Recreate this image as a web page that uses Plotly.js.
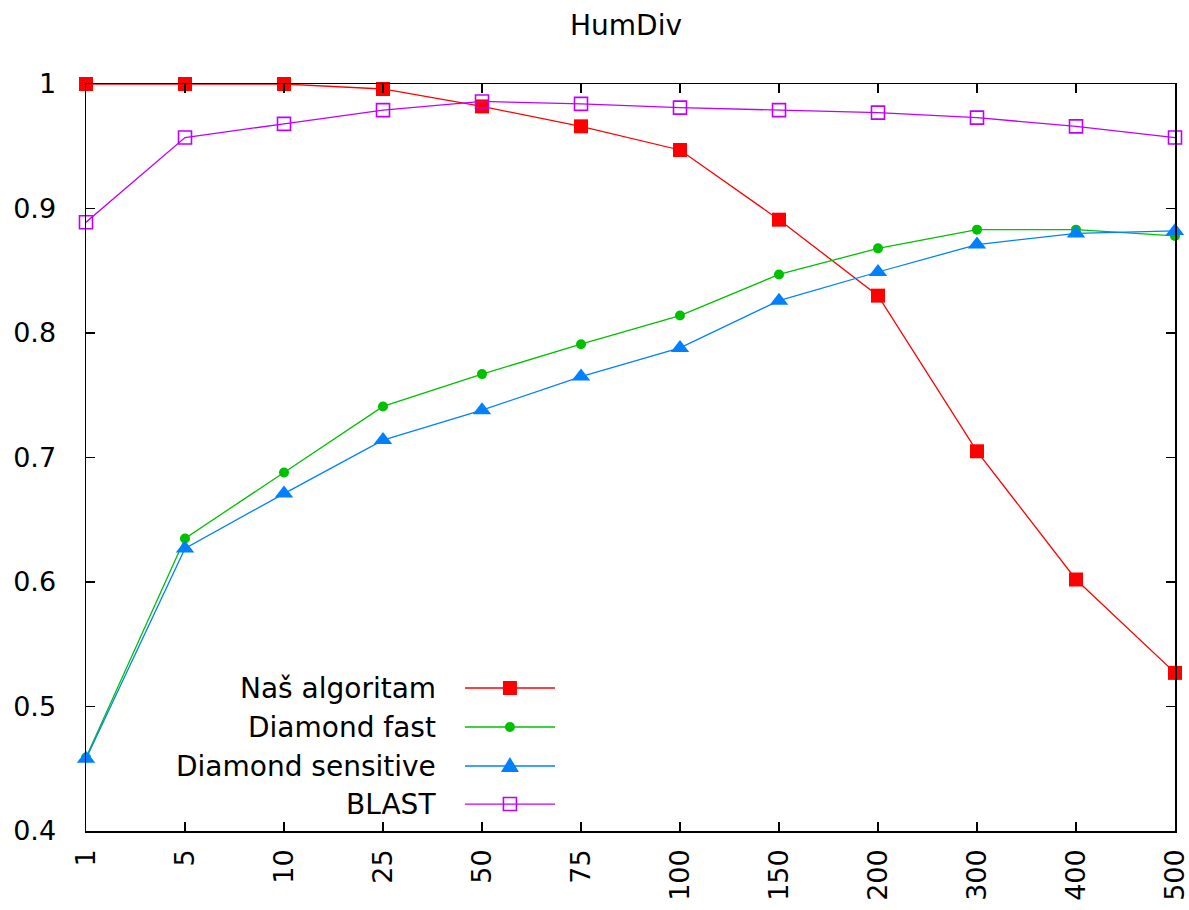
<!DOCTYPE html>
<html><head><meta charset="utf-8">
<script src="https://cdn.plot.ly/plotly-3.0.1.min.js"></script>
<style>body{margin:0;background:#fff}#chart{width:1189px;height:910px}</style>
</head><body><div id="chart"></div>
<script>
const categories = ["1","5","10","25","50","75","100","150","200","300","400","500"];
const nasAlgoritam = [1.0, 1.0, 1.0, 0.996, 0.982, 0.966, 0.947, 0.891, 0.830, 0.705, 0.602, 0.527];
const diamondFast = [0.459, 0.635, 0.688, 0.741, 0.767, 0.791, 0.814, 0.847, 0.868, 0.883, 0.883, 0.878];
const diamondSensitive = [0.458, 0.627, 0.671, 0.714, 0.738, 0.765, 0.788, 0.826, 0.849, 0.871, 0.880, 0.882];
const blast = [0.889, 0.957, 0.968, 0.979, 0.986, 0.984, 0.981, 0.979, 0.977, 0.973, 0.966, 0.957];
const seriesNames = ["Naš algoritam", "Diamond fast", "Diamond sensitive", "BLAST"];
const seriesColors = ["#ff0000", "#00c000", "#0080ff", "#c000ff"];
const yTicks = [0.4, 0.5, 0.6, 0.7, 0.8, 0.9, 1];
const yTickText = ["0.4", "0.5", "0.6", "0.7", "0.8", "0.9", "1"];

const FONT = "DejaVu Sans";
const seriesData = [nasAlgoritam, diamondFast, diamondSensitive, blast];
const markerDefs = [
  {symbol: "square", size: 14},
  {symbol: "circle", size: 10},
  {symbol: "triangle-up", size: 16},
  {symbol: "square-open", size: 13}
];
const traces = seriesData.map((ys, i) => ({
  x: categories, y: ys, type: "scatter", mode: "lines+markers", name: seriesNames[i],
  cliponaxis: false, showlegend: false,
  line: {color: seriesColors[i], width: 1.3},
  marker: {color: seriesColors[i], symbol: markerDefs[i].symbol, size: markerDefs[i].size,
           line: {color: seriesColors[i], width: i === 3 ? 1.6 : 0}}
}));

// custom legend (text on the left, sample on the right, like gnuplot)
const legY = [0.1914, 0.1392, 0.0870, 0.0361];
const legTextX = 0.3232, legLineX0 = 0.348, legLineX1 = 0.4307, legMarkX = 0.3893;
const annotations = seriesNames.map((n, i) => ({
  text: n, xref: "paper", yref: "paper", x: legTextX, y: legY[i], xanchor: "right", yanchor: "middle",
  showarrow: false, font: {family: FONT, size: 28, color: "#000"}
}));
const shapes = [];
seriesNames.forEach((n, i) => {
  shapes.push({type: "line", xref: "paper", yref: "paper", x0: legLineX0, x1: legLineX1, y0: legY[i], y1: legY[i],
    line: {color: seriesColors[i], width: 1.3}});
  const base = {xref: "paper", yref: "paper", xsizemode: "pixel", ysizemode: "pixel", xanchor: legMarkX, yanchor: legY[i]};
  if (i === 0) shapes.push(Object.assign({type: "rect", x0: -7, x1: 7, y0: -7, y1: 7, fillcolor: seriesColors[i], line: {width: 0}}, base));
  if (i === 1) shapes.push(Object.assign({type: "circle", x0: -5, x1: 5, y0: -5, y1: 5, fillcolor: seriesColors[i], line: {width: 0}}, base));
  if (i === 2) shapes.push(Object.assign({type: "path", path: "M -9 -6 L 9 -6 L 0 9 Z", fillcolor: seriesColors[i], line: {width: 0}}, base));
  if (i === 3) shapes.push(Object.assign({type: "rect", x0: -6.5, x1: 6.5, y0: -6.5, y1: 6.5, fillcolor: "rgba(0,0,0,0)", line: {color: seriesColors[i], width: 1.6}}, base));
});

const layout = {
  width: 1189, height: 910,
  margin: {l: 86, r: 14, t: 84, b: 79},
  paper_bgcolor: "#fff", plot_bgcolor: "#fff",
  font: {family: FONT, size: 28, color: "#000"},
  title: {text: "HumDiv", xref: "container", yref: "container", x: 0.5265, xanchor: "center", y: 0.972, yanchor: "middle", font: {family: FONT, size: 28}},
  showlegend: false,
  xaxis: {type: "category", range: [0, 11], showgrid: false, zeroline: false,
    showline: true, linecolor: "#000", linewidth: 1.5, mirror: "allticks",
    ticks: "inside", ticklen: 9, tickcolor: "#000", tickwidth: 1.5, tickangle: -90,
    ticklabelstandoff: 6, tickfont: {family: FONT, size: 27}},
  yaxis: {range: [0.4, 1.0], tickvals: yTicks, ticktext: yTickText, showgrid: false, zeroline: false,
    showline: true, linecolor: "#000", linewidth: 1.5, mirror: "allticks",
    ticks: "inside", ticklen: 9, tickcolor: "#000", tickwidth: 1.5,
    ticklabelstandoff: 23, tickfont: {family: FONT, size: 27}},
  annotations: annotations,
  shapes: shapes
};
Plotly.newPlot("chart", traces, layout, {displayModeBar: false, staticPlot: true});
</script></body></html>
